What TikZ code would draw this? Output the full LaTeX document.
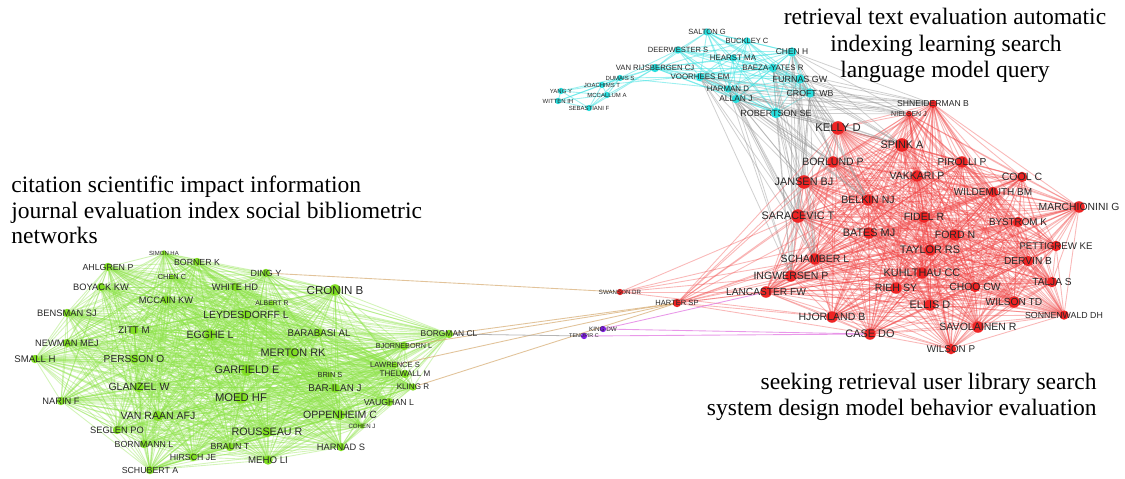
\documentclass[tikz,border=0pt]{standalone}
\usepackage{fontspec}
\setmainfont{Liberation Serif}
\newfontfamily\labfont{Liberation Sans}
\pgfdeclarelayer{edgelayer}
\pgfsetlayers{edgelayer,main}
\definecolor{rednode}{RGB}{238,36,36}
\definecolor{greennode}{RGB}{128,222,34}
\definecolor{cyannode}{RGB}{40,222,222}
\definecolor{purplenode}{RGB}{128,30,228}
\definecolor{rededge}{RGB}{242,70,70}
\definecolor{greenedge}{RGB}{140,228,70}
\definecolor{cyanedge}{RGB}{60,226,226}
\definecolor{grayedge}{RGB}{150,150,150}
\definecolor{tanedge}{RGB}{214,170,112}
\definecolor{magedge}{RGB}{226,120,226}
\definecolor{labc}{RGB}{40,40,40}
\tikzset{
  au/.style={circle,inner sep=0pt,outer sep=0pt,draw=none},
  rn/.style={au,fill=rednode},
  gn/.style={au,fill=greennode},
  cn/.style={au,fill=cyannode},
  pn/.style={au,fill=purplenode},
  lbl/.style={font=\labfont\fontsize{#1}{#1}\selectfont,text=labc,inner sep=0pt},
  gedge/.style={draw=greenedge,line width=0.5pt,opacity=0.38},
  redge/.style={draw=rededge,line width=0.5pt,opacity=0.38},
  cedge/.style={draw=cyanedge,line width=0.5pt,opacity=0.5},
  gyedge/.style={draw=grayedge,line width=0.45pt,opacity=0.45},
  tedge/.style={draw=tanedge,line width=0.5pt,opacity=0.7},
  medge/.style={draw=magedge,line width=0.5pt,opacity=0.75},
  ttl/.style={font=\fontsize{13.4}{15}\selectfont,inner sep=0pt,text=black}
}
\newcommand\au[7]{\node[#1,minimum size=#5*0.021cm,label={[lbl=#6]center:#7}] (#2) at (#3,#4) {};}
\newcommand\drawclique[2]{\foreach \a [count=\i] in {#2}{\foreach \b [count=\j] in {#2}{\ifnum\j>\i\relax\draw[#1] (\a) -- (\b);\fi}}}
\begin{document}
\begin{tikzpicture}[x=0.02cm,y=-0.02cm]
\useasboundingbox (0,0) rectangle (1125,478);
% ---- cyan cluster
\au{cn}{salton}{707}{32}{7}{4.3}{SALTON G}
\au{cn}{buckley}{747}{41}{7}{4.3}{BUCKLEY C}
\au{cn}{chenh}{792}{52}{9}{4.8}{CHEN H}
\au{cn}{deerwester}{678}{50}{7}{4.3}{DEERWESTER S}
\au{cn}{hearst}{733}{58}{7}{4.5}{HEARST MA}
\au{cn}{vanrijs}{655}{68}{8}{4.4}{VAN RIJSBERGEN CJ}
\au{cn}{baeza}{773}{68}{8}{4.5}{BAEZA-YATES R}
\au{cn}{voorhees}{700}{77}{8}{4.5}{VOORHEES EM}
\au{cn}{furnas}{800}{79}{9}{5.1}{FURNAS GW}
\au{cn}{dumais}{620}{78}{6}{3.4}{DUMAIS S}
\au{cn}{joachims}{602}{85}{6}{3.4}{JOACHIMS T}
\au{cn}{mccallum}{607}{95}{6}{3.4}{MCCALLUM A}
\au{cn}{yang}{561}{91}{6}{3.4}{YANG Y}
\au{cn}{witten}{558}{101}{6}{3.4}{WITTEN IH}
\au{cn}{sebastiani}{589}{108}{6}{3.4}{SEBASTIANI F}
\au{cn}{harman}{728}{89}{7}{4.5}{HARMAN D}
\au{cn}{allan}{736}{99}{8}{4.8}{ALLAN J}
\au{cn}{croft}{810}{93}{9}{5.0}{CROFT WB}
\au{cn}{robertson}{776}{113}{10}{5.1}{ROBERTSON SE}
% ---- red cluster
\au{rn}{shneiderman}{933}{104}{8}{4.9}{SHNEIDERMAN B}
\au{rn}{nielsen}{909}{114}{6}{4.0}{NIELSEN J}
\au{rn}{kelly}{838}{128}{13}{6.4}{KELLY D}
\au{rn}{spink}{902}{145}{13}{6.2}{SPINK A}
\au{rn}{borlund}{833}{162}{11}{6.0}{BORLUND P}
\au{rn}{pirolli}{962}{162}{11}{5.8}{PIROLLI P}
\au{rn}{jansen}{804}{182}{13}{6.2}{JANSEN BJ}
\au{rn}{vakkari}{917}{176}{11}{6.0}{VAKKARI P}
\au{rn}{cool}{1022}{177}{10}{6.0}{COOL C}
\au{rn}{wildemuth}{993}{192}{10}{5.7}{WILDEMUTH BM}
\au{rn}{belkin}{868}{200}{11}{6.0}{BELKIN NJ}
\au{rn}{marchionini}{1079}{207}{11}{5.9}{MARCHIONINI G}
\au{rn}{saracevic}{798}{216}{13}{6.2}{SARACEVIC T}
\au{rn}{fidel}{924}{217}{11}{6.0}{FIDEL R}
\au{rn}{bystrom}{1018}{222}{10}{5.6}{BYSTROM K}
\au{rn}{bates}{869}{233}{11}{6.2}{BATES MJ}
\au{rn}{ford}{955}{235}{11}{6.0}{FORD N}
\au{rn}{pettigrew}{1056}{246}{10}{5.5}{PETTIGREW KE}
\au{rn}{taylor}{930}{250}{11}{6.2}{TAYLOR RS}
\au{rn}{schamber}{815}{259}{11}{6.0}{SCHAMBER L}
\au{rn}{dervin}{1028}{261}{10}{5.8}{DERVIN B}
\au{rn}{ingwersen}{791}{276}{11}{6.0}{INGWERSEN P}
\au{rn}{kuhlthau}{922}{273}{11}{6.2}{KUHLTHAU CC}
\au{rn}{talja}{1052}{282}{10}{5.8}{TALJA S}
\au{rn}{lancaster}{766}{292}{11}{5.8}{LANCASTER FW}
\au{rn}{rieh}{896}{288}{11}{6.0}{RIEH SY}
\au{rn}{choo}{975}{287}{10}{5.9}{CHOO CW}
\au{rn}{ellis}{930}{305}{11}{6.2}{ELLIS D}
\au{rn}{wilsontd}{1014}{302}{11}{5.8}{WILSON TD}
\au{rn}{hjorland}{832}{317}{11}{6.0}{HJORLAND B}
\au{rn}{sonnenwald}{1064}{315}{9}{5.0}{SONNENWALD DH}
\au{rn}{savolainen}{978}{327}{11}{6.0}{SAVOLAINEN R}
\au{rn}{case}{870}{334}{11}{6.2}{CASE DO}
\au{rn}{wilsonp}{951}{349}{10}{5.6}{WILSON P}
\au{rn}{harter}{677}{303}{8}{4.3}{HARTER SP}
\au{rn}{swanson}{620}{292}{6}{3.5}{SWANSON DR}
% ---- purple
\au{pn}{king}{603}{329}{6}{3.6}{KING DW}
\au{pn}{tenopir}{584}{336}{6}{3.1}{TENOPIR C}
% ---- green cluster
\au{gn}{simon}{164}{253}{5}{3.4}{SIMON HA}
\au{gn}{borner}{197}{262}{8}{5.0}{BORNER K}
\au{gn}{ahlgren}{108}{267}{8}{5.0}{AHLGREN P}
\au{gn}{chenc}{172}{277}{5}{4.2}{CHEN C}
\au{gn}{boyack}{101}{287}{8}{5.3}{BOYACK KW}
\au{gn}{whitehd}{235}{287}{8}{5.3}{WHITE HD}
\au{gn}{mccain}{166}{300}{8}{5.3}{MCCAIN KW}
\au{gn}{bensman}{67}{313}{8}{5.3}{BENSMAN SJ}
\au{gn}{leydesdorff}{246}{315}{10}{5.9}{LEYDESDORFF L}
\au{gn}{zitt}{134}{330}{9}{5.5}{ZITT M}
\au{gn}{egghe}{210}{335}{11}{6.0}{EGGHE L}
\au{gn}{newman}{67}{343}{8}{5.3}{NEWMAN MEJ}
\au{gn}{small}{35}{359}{8}{5.5}{SMALL H}
\au{gn}{persson}{134}{359}{9}{5.8}{PERSSON O}
\au{gn}{glanzel}{139}{387}{10}{6.0}{GLANZEL W}
\au{gn}{narin}{61}{401}{8}{5.3}{NARIN F}
\au{gn}{vanraan}{158}{416}{10}{6.0}{VAN RAAN AFJ}
\au{gn}{seglen}{117}{430}{8}{5.3}{SEGLEN PO}
\au{gn}{bornmann}{144}{444}{8}{5.0}{BORNMANN L}
\au{gn}{hirsch}{193}{457}{8}{5.0}{HIRSCH JE}
\au{gn}{schubert}{150}{470}{8}{5.0}{SCHUBERT A}
\au{gn}{ding}{266}{273}{8}{5.1}{DING Y}
\au{gn}{cronin}{335}{290}{11}{6.6}{CRONIN B}
\au{gn}{albert}{272}{303}{5}{3.9}{ALBERT R}
\au{gn}{barabasi}{319}{333}{8}{5.5}{BARABASI AL}
\au{gn}{bjorneborn}{404}{346}{8}{4.1}{BJORNEBORN L}
\au{gn}{borgman}{449}{334}{8}{4.8}{BORGMAN CL}
\au{gn}{merton}{293}{353}{10}{6.2}{MERTON RK}
\au{gn}{garfield}{247}{370}{11}{6.2}{GARFIELD E}
\au{gn}{lawrence}{395}{365}{6}{4.3}{LAWRENCE S}
\au{gn}{brin}{330}{375}{5}{4.2}{BRIN S}
\au{gn}{thelwall}{405}{374}{8}{4.6}{THELWALL M}
\au{gn}{barilan}{335}{388}{9}{5.6}{BAR-ILAN J}
\au{gn}{kling}{413}{387}{7}{4.6}{KLING R}
\au{gn}{moed}{241}{398}{11}{6.4}{MOED HF}
\au{gn}{vaughan}{389}{402}{8}{5.0}{VAUGHAN L}
\au{gn}{oppenheim}{340}{415}{10}{6.0}{OPPENHEIM C}
\au{gn}{cohen}{362}{426}{5}{3.5}{COHEN J}
\au{gn}{rousseau}{267}{432}{10}{6.1}{ROUSSEAU R}
\au{gn}{braun}{230}{447}{8}{5.0}{BRAUN T}
\au{gn}{harnad}{341}{447}{8}{5.3}{HARNAD S}
\au{gn}{meho}{268}{460}{9}{5.5}{MEHO LI}
% ---- topic texts
\node[ttl,anchor=base] (t1) at (945,24) {retrieval text evaluation automatic};
\node[ttl,anchor=base] (t2) at (946,51) {indexing learning search};
\node[ttl,anchor=base] (t3) at (945,77) {language model query};
\node[ttl,anchor=base west] (t4) at (11,192) {citation scientific impact information};
\node[ttl,anchor=base west] (t5) at (11,218) {journal evaluation index social bibliometric};
\node[ttl,anchor=base west] (t6) at (11,243) {networks};
\node[ttl,anchor=base east] (t7) at (1097,389) {seeking retrieval user library search};
\node[ttl,anchor=base east] (t8) at (1097,415) {system design model behavior evaluation};
% ---- edges
\begin{pgfonlayer}{edgelayer}
\fill[white] (0,0) rectangle (1125,478);
\drawclique{gedge}{simon,borner,ahlgren,chenc,boyack,whitehd,mccain,bensman,leydesdorff,zitt,egghe,newman,small,persson,glanzel,narin,vanraan,seglen,bornmann,hirsch,schubert,ding,cronin,albert,barabasi,bjorneborn,borgman,merton,garfield,lawrence,brin,thelwall,barilan,kling,moed,vaughan,oppenheim,cohen,rousseau,braun,harnad,meho}
\drawclique{redge}{shneiderman,nielsen,kelly,spink,borlund,pirolli,jansen,vakkari,cool,wildemuth,belkin,marchionini,saracevic,fidel,bystrom,bates,ford,pettigrew,taylor,schamber,dervin,ingwersen,kuhlthau,talja,lancaster,rieh,choo,ellis,wilsontd,hjorland,sonnenwald,savolainen,case,wilsonp}
\drawclique{cedge}{salton,buckley,chenh,deerwester,hearst,vanrijs,baeza,voorhees,furnas,harman,allan,croft,robertson}
\drawclique{cedge}{dumais,joachims,mccallum,yang,witten,sebastiani}
\foreach \a/\b in {dumais/vanrijs,dumais/deerwester,dumais/voorhees,dumais/harman,joachims/vanrijs,joachims/baeza,mccallum/vanrijs,sebastiani/vanrijs}
  {\draw[cedge] (\a) -- (\b);}
\foreach \a in {robertson,croft,furnas,chenh,allan,harman,baeza,voorhees}
  {\foreach \b in {kelly,spink,jansen,borlund,saracevic,belkin,ingwersen,shneiderman,nielsen,schamber}
    {\draw[gyedge] (\a) -- (\b);}}
\foreach \b in {saracevic,jansen,ingwersen,lancaster,schamber,borlund,belkin,bates,kelly,spink,case,hjorland,taylor,kuhlthau,fidel}
  {\draw[redge] (harter) -- (\b);}
\foreach \b in {ingwersen,lancaster,saracevic,hjorland,schamber,bates}
  {\draw[redge] (swanson) -- (\b);}
\foreach \a/\b in {ding/swanson,borgman/harter,bjorneborn/harter,lawrence/harter,kling/harter}
  {\draw[tedge] (\a) -- (\b);}
\foreach \a/\b in {king/lancaster,king/case,tenopir/case}
  {\draw[medge] (\a) -- (\b);}
\draw[gyedge,opacity=0.7] (borgman) -- (tenopir);
\end{pgfonlayer}
\end{tikzpicture}
\end{document}
